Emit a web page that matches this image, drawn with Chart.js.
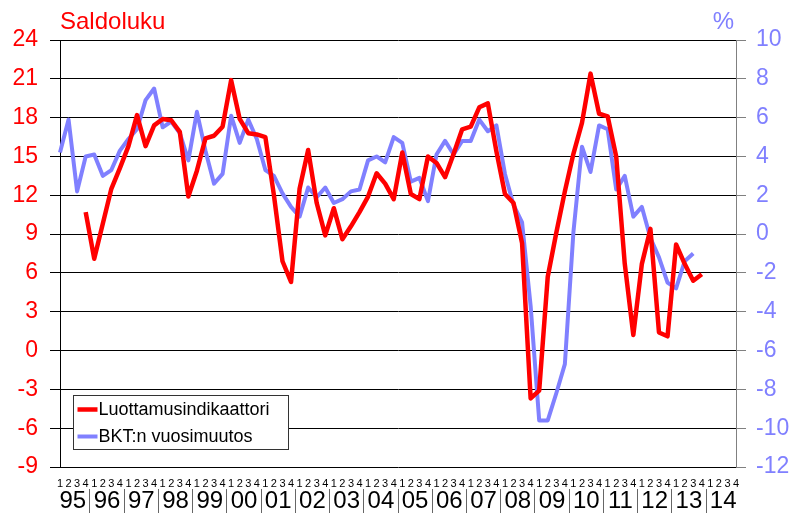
<!DOCTYPE html>
<html lang="fi">
<head>
<meta charset="UTF-8">
<title>Luottamusindikaattori ja BKT</title>
<script src="https://cdn.jsdelivr.net/npm/chart.js"></script>
<style>
  html, body { margin: 0; padding: 0; background: #fff; }
  canvas { display: block; }
</style>
</head>
<body>
<canvas id="chart" width="793" height="520"></canvas>
<script>
// quarters 1995Q1 .. 2014Q4
const years = ['95', '96', '97', '98', '99', '00', '01', '02', '03', '04',
               '05', '06', '07', '08', '09', '10', '11', '12', '13', '14'];
const quarterNames = ['1', '2', '3', '4'];

// Luottamusindikaattori (saldoluku, left axis)
const confidence = [
  null, null, null, 10.7, 7.1, 9.8, 12.5, 14.1, 15.8, 18.2,
  15.8, 17.4, 17.9, 17.8, 16.9, 11.9, 13.9, 16.4, 16.6, 17.3,
  20.9, 17.9, 16.8, 16.7, 16.5, 12.0, 6.9, 5.3, 12.5, 15.5,
  11.4, 8.9, 11.0, 8.6, 9.6, 10.7, 11.9, 13.7, 12.9, 11.7,
  15.3, 12.1, 11.7, 15.0, 14.5, 13.4, 15.2, 17.1, 17.3, 18.8,
  19.1, 15.4, 12.1, 11.4, 8.3, -3.7, -3.1, 5.7, 9.1, 12.3,
  15.2, 17.6, 21.4, 18.3, 18.1, 15.0, 6.7, 1.2, 6.7, 9.4,
  1.4, 1.1, 8.2, 6.7, 5.4, 5.9, null, null, null, null
];

// BKT:n vuosimuutos (%, right axis)
const gdpChange = [
  4.2, 5.9, 2.2, 4.0, 4.1, 3.0, 3.3, 4.3, 4.9, 5.4,
  6.9, 7.5, 5.5, 5.8, 5.2, 3.8, 6.3, 4.3, 2.6, 3.1,
  6.1, 4.7, 5.9, 4.9, 3.3, 3.0, 2.1, 1.4, 0.9, 2.4,
  1.9, 2.4, 1.6, 1.8, 2.2, 2.3, 3.8, 4.0, 3.7, 5.0,
  4.7, 2.7, 2.9, 1.7, 4.1, 4.8, 4.1, 4.8, 4.8, 5.9,
  5.3, 5.6, 3.1, 1.5, 0.6, -3.7, -9.6, -9.6, -8.2, -6.7,
  0.1, 4.5, 3.2, 5.6, 5.4, 2.3, 3.0, 0.9, 1.4, -0.2,
  -1.2, -2.5, -2.8, -1.4, -1.0, null, null, null, null, null
];

const leftTitle = 'Saldoluku';
const rightTitle = '%';

const categories = years.flatMap(() => quarterNames);
const FONT = "'Liberation Sans', Arial, sans-serif";
Chart.defaults.font.family = FONT;

// axis titles and the legend box inside the plot
const decorations = {
    id: 'decorations',
    afterDraw(chart) {
        const { ctx, chartArea: area } = chart;
        ctx.save();
        ctx.font = '24px ' + FONT;
        ctx.textBaseline = 'alphabetic';
        ctx.textAlign = 'left';
        ctx.fillStyle = '#FF0000';
        ctx.fillText(leftTitle, area.left, 29);
        ctx.textAlign = 'right';
        ctx.fillStyle = '#8080FF';
        ctx.fillText(rightTitle, area.right - 2, 29);

        const bx = area.left + 13.5, by = area.bottom - 71.5;
        ctx.fillStyle = '#fff';
        ctx.fillRect(bx, by, 215, 54);
        ctx.strokeStyle = '#333';
        ctx.lineWidth = 1;
        ctx.strokeRect(bx, by, 215, 54);
        ctx.font = '18px ' + FONT;
        ctx.textAlign = 'left';
        ctx.textBaseline = 'middle';
        chart.data.datasets.forEach((ds, k) => {
            const yy = by + 14 + k * 27;
            ctx.strokeStyle = ds.borderColor;
            ctx.lineWidth = ds.borderWidth;
            ctx.beginPath();
            ctx.moveTo(bx + 4, yy);
            ctx.lineTo(bx + 24, yy);
            ctx.stroke();
            ctx.fillStyle = '#000';
            ctx.fillText(ds.label, bx + 25, yy + 1);
        });
        ctx.restore();
    }
};

new Chart(document.getElementById('chart'), {
    type: 'line',
    data: {
        labels: categories,
        datasets: [
            {
                label: 'Luottamusindikaattori',
                data: confidence,
                yAxisID: 'y',
                borderColor: '#FF0000',
                borderWidth: 4.5,
                pointRadius: 0,
                tension: 0,
                borderJoinStyle: 'round'
            },
            {
                label: 'BKT:n vuosimuutos',
                data: gdpChange,
                yAxisID: 'y1',
                borderColor: '#8080FF',
                borderWidth: 4,
                pointRadius: 0,
                tension: 0,
                borderJoinStyle: 'round'
            }
        ]
    },
    options: {
        responsive: false,
        animation: false,
        layout: { padding: { top: 40, left: 0, right: 0, bottom: 0 } },
        plugins: { legend: { display: false }, tooltip: { enabled: false } },
        scales: {
            x: {
                type: 'category',
                offset: false,
                weight: 0,
                grid: { display: false, drawTicks: false },
                border: { display: false },
                ticks: { autoSkip: false, maxRotation: 0, minRotation: 0, padding: 10, color: '#000', font: { size: 11 } },
                afterFit(s) { s.height = 22; }
            },
            years: {
                type: 'linear',
                position: 'bottom',
                weight: 1,
                min: 0,
                max: categories.length - 1,
                bounds: 'data',
                afterBuildTicks(s) { s.ticks = years.map((y, k) => ({ value: k * 4 + 1.5 })); },
                ticks: { autoSkip: false, maxRotation: 0, minRotation: 0, padding: -26, color: '#000', font: { size: 24 },
                         callback: (v, i) => years[i] },
                grid: { drawOnChartArea: false, offset: true, tickLength: 24, color: '#666' },
                border: { display: false },
                afterFit(s) { s.height = 31; }
            },
            y: {
                position: 'left',
                min: -9,
                max: 24,
                ticks: { stepSize: 3, color: '#FF0000', font: { size: 23 }, padding: 12 },
                grid: { color: '#000', lineWidth: 1, tickLength: 10 },
                border: { color: '#000', width: 1 },
                afterFit(s) { s.width = 60; }
            },
            y1: {
                position: 'right',
                min: -12,
                max: 10,
                ticks: { stepSize: 2, color: '#8080FF', font: { size: 23 }, padding: 10 },
                grid: { drawOnChartArea: false, color: '#808080', tickLength: 10 },
                border: { color: '#808080', width: 1 },
                afterFit(s) { s.width = 57; }
            }
        }
    },
    plugins: [decorations]
});
</script>
</body>
</html>
